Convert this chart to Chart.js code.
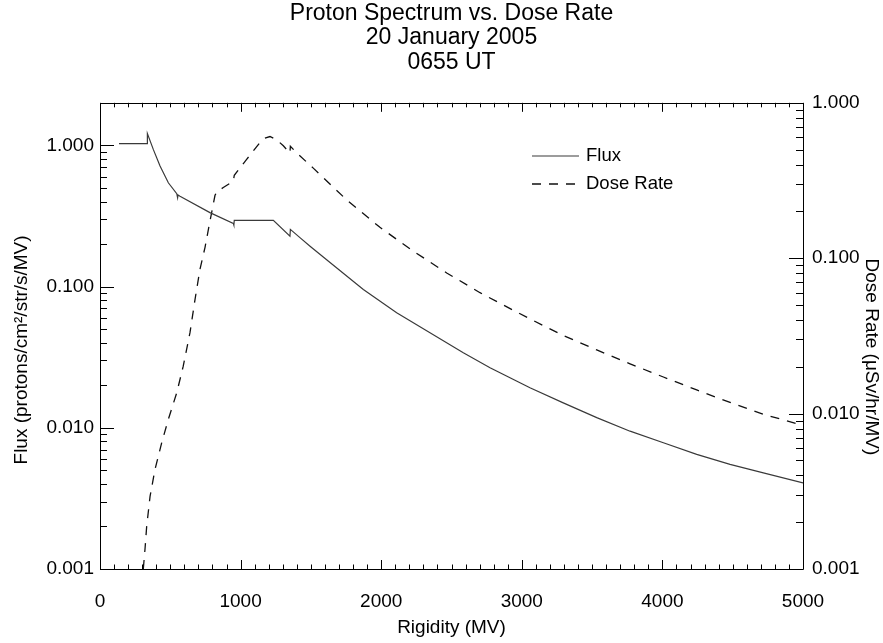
<!DOCTYPE html>
<html><head><meta charset="utf-8">
<script src="https://cdn.jsdelivr.net/npm/chart.js@4.4.0/dist/chart.umd.min.js"></script>
<style>html,body{margin:0;padding:0;background:#fff;}</style>
</head><body>
<canvas id="c" width="883" height="643"></canvas>
<script>
const titleLines = ['Proton Spectrum vs. Dose Rate', '20 January 2005', '0655 UT'];
const seriesNames = ['Flux', 'Dose Rate'];
const xLabel = 'Rigidity (MV)';
const fluxAxisLabel = 'Flux (protons/cm²/str/s/MV)';
const doseAxisLabel = 'Dose Rate (μSv/hr/MV)';
const xTickValues = [0, 1000, 2000, 3000, 4000, 5000];
const fluxTickValues = [0.001, 0.01, 0.1, 1];
const doseTickValues = [0.001, 0.01, 0.1, 1];

const fluxRigidity = [135, 335, 337, 379, 427, 486, 546, 552, 555, 569, 782, 948, 952, 955, 1233, 1351, 1354, 1422, 1494, 1636, 1873, 2110, 2347, 2584, 2774, 3058, 3295, 3533, 3770, 4007, 4244, 4481, 4718, 5000];
const fluxValues = [1.03, 1.03, 1.21, 0.936, 0.713, 0.543, 0.455, 0.425, 0.445, 0.436, 0.334, 0.280, 0.272, 0.294, 0.294, 0.227, 0.254, 0.222, 0.193, 0.148, 0.0953, 0.0652, 0.0471, 0.0340, 0.0266, 0.0192, 0.0150, 0.0118, 0.00946, 0.00784, 0.00648, 0.0055, 0.0048, 0.00407];

const doseRigidity = [308, 320, 332, 356, 391, 439, 486, 546, 592, 640, 676, 711, 747, 782, 818, 832, 877, 948, 955, 1043, 1138, 1173, 1209, 1257, 1304, 1351, 1354, 1400, 1517, 1755, 1991, 2228, 2466, 2703, 2940, 3058, 3295, 3533, 3770, 4007, 4244, 4481, 4718, 5000];
const doseValues = [0.001, 0.00134, 0.00188, 0.00293, 0.00437, 0.0065, 0.00918, 0.01364, 0.0202, 0.0332, 0.0544, 0.0849, 0.1175, 0.173, 0.254, 0.268, 0.285, 0.313, 0.342, 0.433, 0.555, 0.592, 0.607, 0.578, 0.529, 0.475, 0.525, 0.475, 0.380, 0.237, 0.158, 0.111, 0.0804, 0.0600, 0.0462, 0.0407, 0.0318, 0.0257, 0.0209, 0.0172, 0.0142, 0.0118, 0.0099, 0.0084];

const FONT = "'Liberation Sans', Arial, Helvetica, sans-serif";
Chart.defaults.font.family = FONT;
Chart.defaults.color = '#000';

const fluxStyle = { color: '#3a3a3a', width: 1.2, dash: [] };
const doseStyle = { color: '#111111', width: 1.3, dash: [9, 8] };

const frameTicks = {
  id: 'frameTicks',
  afterDatasetsDraw(chart) {
    const { ctx, chartArea: a, scales } = chart;
    ctx.save();
    ctx.strokeStyle = '#000';
    ctx.lineWidth = 1;
    ctx.beginPath();
    ctx.rect(Math.round(a.left) + 0.5, Math.round(a.top) + 0.5, Math.round(a.right - a.left), Math.round(a.bottom - a.top));
    ctx.stroke();
    ctx.beginPath();
    const xs = scales.x;
    for (let v = xs.min; v <= xs.max; v += 100) {
      const px = Math.round(xs.getPixelForValue(v)) + 0.5;
      const len = (v % 1000 === 0) ? 9 : 4.5;
      ctx.moveTo(px, a.bottom); ctx.lineTo(px, a.bottom - len);
      ctx.moveTo(px, a.top); ctx.lineTo(px, a.top + len);
    }
    const logTicks = (scale, fromLeft) => {
      for (let d = -3; d <= 1; d++) {
        for (let m = 1; m <= 9; m++) {
          const v = m * Math.pow(10, d);
          if (v < scale.min * 0.999 || v > scale.max * 1.001) continue;
          const py = Math.round(scale.getPixelForValue(v)) + 0.5;
          const len = m === 1 ? 14 : 7;
          if (fromLeft) { ctx.moveTo(a.left, py); ctx.lineTo(a.left + len, py); }
          else { ctx.moveTo(a.right, py); ctx.lineTo(a.right - len, py); }
        }
      }
    };
    logTicks(scales.yFlux, true);
    logTicks(scales.yDose, false);
    ctx.stroke();
    ctx.restore();
  }
};

// y-axis titles, placed as in the original (slightly below the axis centre)
const sideTitles = {
  id: 'sideTitles',
  afterDraw(chart) {
    const { ctx, chartArea: a } = chart;
    const mid = (a.top + a.bottom) / 2;
    ctx.save();
    ctx.font = '19px ' + FONT;
    ctx.fillStyle = '#000';
    ctx.textAlign = 'center';
    ctx.textBaseline = 'middle';
    ctx.save();
    ctx.translate(22, mid + 14);
    ctx.rotate(-Math.PI / 2);
    ctx.fillText(fluxAxisLabel, 0, 0);
    ctx.restore();
    ctx.save();
    ctx.translate(871, mid + 21);
    ctx.rotate(Math.PI / 2);
    ctx.fillText(doseAxisLabel, 0, 0);
    ctx.restore();
    ctx.restore();
  }
};

const insetLegend = {
  id: 'insetLegend',
  afterDraw(chart) {
    const { ctx } = chart;
    const items = chart.data.datasets;
    ctx.save();
    ctx.font = '18.5px ' + FONT;
    ctx.textBaseline = 'middle';
    ctx.fillStyle = '#000';
    items.forEach((ds, i) => {
      const y = 156 + i * 28;
      ctx.beginPath();
      ctx.strokeStyle = ds.borderColor;
      ctx.lineWidth = ds.borderWidth;
      ctx.setLineDash(ds.borderDash || []);
      ctx.moveTo(532, y); ctx.lineTo(579, y);
      ctx.stroke();
      ctx.setLineDash([]);
      ctx.fillText(ds.label, 586, y);
    });
    ctx.restore();
  }
};

new Chart(document.getElementById('c'), {
  type: 'line',
  data: {
    datasets: [
      {
        label: seriesNames[0],
        data: fluxRigidity.map((r, i) => ({ x: r, y: fluxValues[i] })),
        yAxisID: 'yFlux',
        borderColor: fluxStyle.color, borderWidth: fluxStyle.width, borderDash: fluxStyle.dash,
        pointRadius: 0, tension: 0, fill: false
      },
      {
        label: seriesNames[1],
        data: doseRigidity.map((r, i) => ({ x: r, y: doseValues[i] })),
        yAxisID: 'yDose',
        borderColor: doseStyle.color, borderWidth: doseStyle.width, borderDash: doseStyle.dash,
        pointRadius: 0, tension: 0, fill: false
      }
    ]
  },
  options: {
    responsive: false,
    devicePixelRatio: 1,
    animation: false,
    layout: { padding: 0 },
    plugins: {
      legend: { display: false },
      tooltip: { enabled: false },
      title: {
        display: true, text: titleLines, fullSize: false,
        font: { size: 23, weight: 'normal', lineHeight: 1.07 },
        padding: { top: 1, bottom: 28 }, color: '#000'
      }
    },
    scales: {
      x: {
        type: 'linear', position: 'bottom', min: 0, max: 5000,
        afterBuildTicks: s => { s.ticks = xTickValues.map(v => ({ value: v })); },
        afterFit: s => { s.height = 74; },
        grid: { display: false, drawTicks: false }, border: { display: false },
        ticks: { font: { size: 19 }, padding: 21, maxRotation: 0, callback: v => String(v) },
        title: { display: true, text: xLabel, font: { size: 19 }, padding: { top: 0, bottom: 4 } }
      },
      yFlux: {
        type: 'logarithmic', position: 'left', min: 0.001, max: 2,
        afterBuildTicks: s => { s.ticks = fluxTickValues.map(v => ({ value: v })); },
        afterFit: s => { s.width = 100; },
        grid: { display: false, drawTicks: false }, border: { display: false },
        ticks: { font: { size: 19 }, padding: 6, callback: v => Number(v).toFixed(3) },
        title: { display: false }
      },
      yDose: {
        type: 'logarithmic', position: 'right', min: 0.001, max: 1,
        afterBuildTicks: s => { s.ticks = doseTickValues.map(v => ({ value: v })); },
        afterFit: s => { s.width = 80; },
        grid: { display: false, drawTicks: false }, border: { display: false },
        ticks: { font: { size: 19 }, padding: 9, callback: v => Number(v).toFixed(3) },
        title: { display: false }
      }
    }
  },
  plugins: [frameTicks, sideTitles, insetLegend]
});
</script>
</body></html>
